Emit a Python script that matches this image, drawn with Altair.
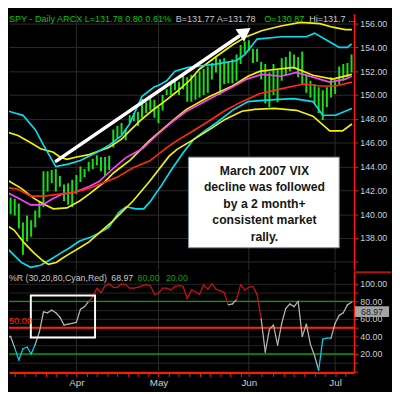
import altair as alt
import pandas as pd

# ---------------- price panel data (bar index, high, low) ----------------
bar_high = [141.1, 141.4, 141.3, 140.9, 139.3, 139.9, 139.5, 140.3, 141.1, 143.6,
            143.6, 143.7, 143.8, 143.2, 142.5, 142.6, 142.9, 143.3, 144.0, 143.8,
            144.4, 144.65, 144.95, 144.8, 144.8, 144.9, 147.1, 147.4, 147.65, 147.1,
            148.3, 148.5, 148.6, 149.7, 149.4, 149.7, 149.6, 149.0, 150.0, 150.5,
            151.0, 151.3, 151.1, 151.7, 151.5, 151.7, 151.7, 152.0, 152.2, 152.4,
            152.7, 153.2, 153.0, 153.1, 152.8, 153.0, 153.4, 154.2, 154.5, 154.6,
            153.9, 153.9, 152.8, 152.6, 151.9, 152.6, 152.2, 153.1, 153.2, 153.65,
            153.4, 153.2, 153.65, 151.7, 151.2, 150.9, 150.65, 150.4, 150.65, 151.5,
            151.3, 152.4, 152.6, 152.7, 153.4]
bar_low = [139.9, 140.0, 139.9, 138.8, 136.6, 137.7, 138.1, 138.9, 139.7, 140.6,
           141.9, 142.6, 141.9, 142.3, 141.1, 140.8, 140.6, 141.7, 142.7, 143.1,
           143.6, 143.8, 144.1, 143.6, 143.2, 143.7, 145.6, 146.4, 146.7, 146.2,
           147.65, 147.8, 147.4, 148.1, 148.5, 148.7, 148.1, 147.65, 148.7, 150.0,
           150.0, 150.4, 150.0, 150.5, 149.45, 149.45, 149.6, 149.8, 150.0, 150.2,
           151.3, 151.9, 150.0, 150.9, 151.0, 151.0, 151.2, 152.6, 153.5, 153.7,
           152.7, 152.8, 151.3, 149.3, 149.0, 150.0, 149.4, 151.2, 151.6, 152.0,
           152.2, 151.5, 150.9, 150.2, 149.8, 149.3, 148.5, 147.9, 149.0, 149.8,
           150.1, 150.9, 151.2, 151.5, 151.9]
bar_idx = list(range(len(bar_high)))

# overlay lines: (bar index, price)
y1_idx = [0, 2.8, 5.9, 8.3, 11.4, 13, 14.7, 17.1, 20.1, 22.5, 24.9, 28, 30.3, 32.7, 35.1,
          38.4, 41.5, 44.5, 46.9, 50.9, 55, 58.1, 62.1, 66.8, 71.6, 76.3, 79.4, 82.5, 84.1]
y1_val = [146.9, 146.6, 146.0, 145.5, 145.2, 144.8, 144.6, 144.8, 145.0, 145.3, 145.6, 146.3,
          147.1, 147.9, 148.6, 149.45, 150.3, 151.2, 152.15, 153.2, 154.2, 154.85, 155.4,
          155.8, 156.1, 156.0, 155.7, 155.5, 155.5]
c1_idx = [0, 2, 4, 7, 9, 12, 15, 18, 22, 25, 28, 30, 33, 36, 37, 39, 41, 44, 46, 51, 56, 58,
          61, 67, 73, 75, 78, 81, 83, 84]
c1_val = [148.7, 148.5, 148.3, 147.1, 145.8, 144.0, 144.2, 144.5, 145.2, 145.8, 146.6, 147.6,
          149.9, 150.7, 150.8, 151.2, 152.0, 152.3, 152.4, 152.6, 152.9, 153.4, 154.7, 154.9,
          154.9, 155.2, 154.6, 154.0, 154.0, 154.3]
y2_idx = [0, 3.6, 6.6, 9.0, 11.4, 14.7, 17.8, 20.1, 23.7, 26.1, 30.1, 34.8, 38.4, 40.3, 43.8,
          49.3, 55.0, 58.8, 61.6, 65.2, 69.9, 74.6, 79.4, 84.1]
y2_val = [142.91, 142.17, 141.35, 140.86, 140.45, 140.53, 141.11, 141.68, 142.66, 143.48,
          144.54, 146.18, 147.24, 147.82, 148.80, 149.86, 150.76, 151.58, 151.99, 152.15,
          152.32, 151.66, 151.34, 151.74]
m_idx = [0, 2.8, 5.9, 8.8, 11.1, 13.5, 16.6, 20.1, 22.5, 25.6, 28.9, 33.2, 36.7, 40.3, 43.8,
         46.9, 50.9, 55.0, 58.5, 62.1, 66.8, 70.6, 75.4, 78.7, 82.5, 84.1]
m_val = [141.84, 141.35, 140.78, 140.78, 141.27, 141.68, 141.84, 142.33, 142.74, 143.73,
         144.71, 145.53, 146.67, 147.74, 148.64, 149.21, 149.94, 150.68, 151.34, 151.74,
         151.58, 151.91, 151.42, 151.09, 151.34, 151.58]
r_idx = [0, 2.8, 5.9, 9.0, 13.0, 16.6, 20.1, 22.5, 26.8, 30.8, 34.8, 39.1, 41.5, 45.5, 49.3,
         53.3, 57.3, 61.6, 66.8, 72.3, 76.3, 80.1, 84.1]
r_val = [142.25, 142.09, 141.52, 141.52, 141.68, 141.84, 142.17, 142.50, 143.07, 143.89,
         144.46, 145.61, 146.18, 147.00, 147.82, 148.72, 149.45, 150.11, 150.52, 150.93,
         150.76, 150.76, 151.09]
c2_idx = [0, 1.7, 3.6, 5.9, 8.3, 10.7, 13.0, 15.4, 17.8, 20.6, 22.5, 24.9, 27.3, 29.1, 31.5,
          33.4, 35.1, 37.9, 40.3, 43.1, 45.5, 48.6, 51.4, 55.0, 58.8, 61.6, 65.2, 69.9, 74.6,
          77.0, 80.1, 84.1]
c2_val = [137.18, 136.61, 135.95, 135.54, 135.71, 136.20, 136.69, 137.18, 137.75, 138.08,
          138.41, 138.90, 140.13, 140.62, 140.45, 140.45, 141.11, 142.50, 143.81, 145.20,
          146.26, 147.08, 147.74, 148.72, 149.45, 149.54, 149.62, 149.70, 149.45, 148.31,
          148.31, 148.88]
y4_idx = [0, 1.9, 4.3, 6.6, 8.8, 10.2, 12.1, 13.5, 15.4, 17.8, 20.1, 22.5, 25.8, 30.8, 34.8,
          39.6, 41.5, 45.5, 49.3, 53.3, 57.3, 60.4, 65.2, 70.6, 74.6, 78.7, 81.8, 84.1]
y4_val = [139.06, 138.65, 137.59, 136.77, 136.11, 135.79, 135.95, 136.28, 136.69, 137.18,
          137.67, 138.41, 139.39, 141.11, 142.74, 144.87, 145.44, 146.26, 147.08, 147.98,
          148.64, 148.80, 148.88, 148.72, 148.23, 147.00, 147.00, 147.57]

# ---------------- %R panel data ----------------
wr_val = [39, 40, 27, 13, 26, 28, 20, 31, 45, 68,
          67, 70, 67, 62, 53, 54, 55, 56, 71, 74,
          80, 85, 95, 90, 98, 100, 96, 96, 100, 99,
          95, 95, 96, 98, 99, 98, 88, 89, 95, 95,
          93, 97, 98, 97, 83, 93, 91, 88, 99, 94,
          100, 94, 92, 90, 76, 77, 82, 99, 93, 96,
          97, 88, 60, 22, 48, 53, 30, 55, 72, 77,
          74, 80, 40, 54, 31, 18, 1.5, 37, 38, 38,
          55, 64, 67, 76, 79]
# state of each segment: g = neutral, c = oversold (cyan), r = overbought (red)
wr_state = list("gg" + "c" * 5 + "g" * 13 + "r" * 34 + "gg" + "r" * 6 + "g" * 14 + "ccc" + "g" * 5)

month_idx = [17, 37, 59, 80]
month_names = ["Apr", "May", "Jun", "Jul"]
minor_ticks = [2, 4.5, 7, 9.5, 12, 14.5, 19.5, 22, 24.5, 27, 29.5, 32, 34.5, 39.5, 42, 44.5,
               47, 49.5, 52, 54.5, 57, 62, 65, 67.5, 70, 72.5, 75, 77.5, 82.5]
price_ticks = [136, 138, 140, 142, 144, 146, 148, 150, 152, 154, 156]
wr_ticks = [0, 10, 20, 30, 40, 50, 60, 70, 80, 90, 100]

title_parts = ["SPY - Daily ARCX L=131.78 0.80 0.61%", "B=131.77 A=131.78", "O=130.87", "Hi=131.7 ..."]
note_lines = ["March 2007 VIX", "decline was followed", "by a 2 month+", "consistent market", "rally."]
note_line_p = [143.65, 142.25, 140.86, 139.47, 138.08]

# ---------------- styling ----------------
X_DOMAIN = [0.6, 84.6]
P_DOMAIN = [135.3, 156.82]
W_DOMAIN = [-1.11, 113.33]
GRID = "#2c2c2c"
AXRED = "#ff1a00"
LABEL = "#cfcfcf"
FONT = "Liberation Sans"
GREEN_BAR = "#18e018"
TXT_GREEN = "#00c800"

xscale = alt.Scale(domain=X_DOMAIN, nice=False, zero=False)
pscale = alt.Scale(domain=P_DOMAIN, nice=False, zero=False)
wscale = alt.Scale(domain=W_DOMAIN, nice=False, zero=False)

p_axis = alt.Axis(orient="right", values=price_ticks, format=".2f",
                  labelExpr="datum.value < 137 ? '' : datum.label",
                  grid=True, gridColor=GRID, gridWidth=1,
                  domainColor=AXRED, domainWidth=1.5, tickColor=AXRED, tickSize=4,
                  labelColor=LABEL, labelFont=FONT, labelFontSize=9, labelPadding=2,
                  title=None)
xt = alt.X("i:Q", scale=xscale, axis=None)
yt = alt.Y("p:Q", scale=pscale, axis=p_axis)

dummy = pd.DataFrame({"k": [0]})

# ---------------- top panel ----------------
grid_t = alt.Chart(pd.DataFrame({"i": month_idx})).mark_rule(color=GRID, strokeWidth=1).encode(x=xt)

bars = alt.Chart(pd.DataFrame({"i": bar_idx, "p": bar_low, "p2": bar_high})).mark_rule(
    color=GREEN_BAR, strokeWidth=2, clip=True).encode(x=xt, y=yt, y2="p2:Q")

series = [("Y1", y1_idx, y1_val, "#f2f200"), ("C1", c1_idx, c1_val, "#00e0f0"),
          ("Y2", y2_idx, y2_val, "#f2f200"), ("M", m_idx, m_val, "#ff40ff"),
          ("R", r_idx, r_val, "#ff2a10"), ("C2", c2_idx, c2_val, "#00e0f0"),
          ("Y4", y4_idx, y4_val, "#f2f200")]
rows = []
for name, ix, vals, _c in series:
    for a, b in zip(ix, vals):
        rows.append({"s": name, "i": a, "p": b})
lines = alt.Chart(pd.DataFrame(rows)).mark_line(strokeWidth=1.7, clip=True).encode(
    x=xt, y=yt,
    color=alt.Color("s:N", scale=alt.Scale(domain=[s[0] for s in series],
                                           range=[s[3] for s in series]), legend=None))

arrow = alt.Chart(pd.DataFrame({"i": [12.09, 56.6], "p": [144.46, 154.94]})).mark_line(
    color="white", strokeWidth=3.5, strokeCap="round").encode(x=xt, y=yt)
head = alt.Chart(pd.DataFrame({"i": [58.1], "p": [155.32]})).mark_point(
    shape="triangle-up", filled=True, color="white", opacity=1, size=240, angle=55.6,
    strokeWidth=0).encode(x=xt, y=yt)

box = alt.Chart(pd.DataFrame({"i": [44.3], "i2": [81.0], "p": [144.79], "p2": [137.18]})).mark_rect(
    fill="white", stroke="#7c8ea3", strokeWidth=1).encode(x=xt, x2="i2:Q", y=yt, y2="p2:Q")
box_text = alt.Chart(pd.DataFrame({"i": [62.8] * len(note_lines), "p": note_line_p,
                                   "t": note_lines})).mark_text(
    font=FONT, fontSize=12.5, fontWeight="bold", color="#161616",
    align="center", baseline="middle").encode(x=xt, y=yt, text="t:N")

title_x = [0, 171, 262, 308]
title_col = [TXT_GREEN, "#c8c8c8", TXT_GREEN, "#c8c8c8"]
title_layers = [
    alt.Chart(dummy).mark_text(text=t, font=FONT, fontSize=9.3, color=c, align="left",
                               baseline="middle").encode(x=alt.value(px), y=alt.value(5))
    for t, px, c in zip(title_parts, title_x, title_col)
]

top = alt.layer(grid_t, bars, lines, arrow, head, box, box_text, *title_layers).properties(
    width=354, height=263)

# ---------------- bottom panel ----------------
label_expr = " : ".join(f"datum.value == {m} ? '{n}'" for m, n in zip(month_idx, month_names)) + " : ''"
x_axis = alt.Axis(orient="bottom", values=sorted(minor_ticks + month_idx), labelExpr=label_expr,
                  grid=False, domainColor=AXRED, domainWidth=2, tickColor=AXRED, tickSize=4,
                  labelColor=LABEL, labelFont=FONT, labelFontSize=10, labelPadding=1,
                  labelFlush=False, labelOverlap=False, title=None)
w_axis = alt.Axis(orient="right", values=wr_ticks, format=".2f",
                  labelExpr="(datum.value % 20 == 0 && datum.value > 0) ? datum.label : ''",
                  grid=True, gridColor="#262626", gridWidth=1,
                  domainColor=AXRED, domainWidth=1.5, tickColor=AXRED, tickSize=4,
                  labelColor=LABEL, labelFont=FONT, labelFontSize=9, labelPadding=2,
                  title=None)
xb = alt.X("i:Q", scale=xscale, axis=x_axis)
yb = alt.Y("v:Q", scale=wscale, axis=w_axis)

grid_b = alt.Chart(pd.DataFrame({"i": month_idx})).mark_rule(color=GRID, strokeWidth=1).encode(x=xb)
green_lv = alt.Chart(pd.DataFrame({"v": [20, 80]})).mark_rule(color="#00a000", strokeWidth=1.5).encode(y=yb)
red_lv = alt.Chart(pd.DataFrame({"v": [50]})).mark_rule(color="#ff2200", strokeWidth=2).encode(y=yb)

seg = pd.DataFrame({"i": bar_idx[:-1], "i2": bar_idx[1:], "v": wr_val[:-1], "v2": wr_val[1:],
                    "st": wr_state})
wr_line = alt.Chart(seg).mark_rule(strokeWidth=1.3, strokeCap="round", clip=True).encode(
    x=xb, x2="i2:Q", y=yb, y2="v2:Q",
    color=alt.Color("st:N", scale=alt.Scale(domain=["g", "c", "r"],
                                            range=["#b4b4b4", "#00d0f0", "#c81010"]), legend=None))

hl_box = alt.Chart(pd.DataFrame({"i": [5.92], "i2": [21.56], "v": [86.7], "v2": [38.9]})).mark_rect(
    fillOpacity=0, stroke="white", strokeWidth=2).encode(x=xb, x2="i2:Q", y=yb, y2="v2:Q")

leg_parts = ["%R (30,20,80,Cyan,Red)", "68.97", "80.00", "20.00"]
leg_x = [0, 105, 132, 161]
leg_col = ["#c8c8c8", "#c8c8c8", "#00a000", "#00a000"]
leg_layers = [
    alt.Chart(dummy).mark_text(text=t, font=FONT, fontSize=9, color=c, align="left",
                               baseline="middle").encode(x=alt.value(px), y=alt.value(6))
    for t, px, c in zip(leg_parts, leg_x, leg_col)
]
fifty = alt.Chart(dummy).mark_text(text="50.00", font=FONT, fontSize=9.5, color="#ff2200",
                                   align="left", baseline="middle").encode(x=alt.value(0), y=alt.value(50))
last_box = alt.Chart(dummy).mark_rect(fill="#a4a4a4").encode(
    x=alt.value(355), x2=alt.value(390), y=alt.value(35), y2=alt.value(46))
last_txt = alt.Chart(dummy).mark_text(text="68.97", font=FONT, fontSize=9, color="#202020",
                                      align="center", baseline="middle").encode(
    x=alt.value(372.5), y=alt.value(40.5))
sep = alt.Chart(dummy).mark_rule(color=AXRED, strokeWidth=1.5).encode(
    x=alt.value(354), x2=alt.value(392), y=alt.value(0))

bottom = alt.layer(grid_b, green_lv, red_lv, wr_line, hl_box, *leg_layers, fifty,
                   last_box, last_txt, sep).properties(width=354, height=103)

chart = alt.vconcat(top, bottom, spacing=0).resolve_scale(color="independent").properties(
    background="black", padding=0).configure_view(strokeWidth=0)

chart.save("out.html", embed_options={"renderer": "svg", "actions": False})
